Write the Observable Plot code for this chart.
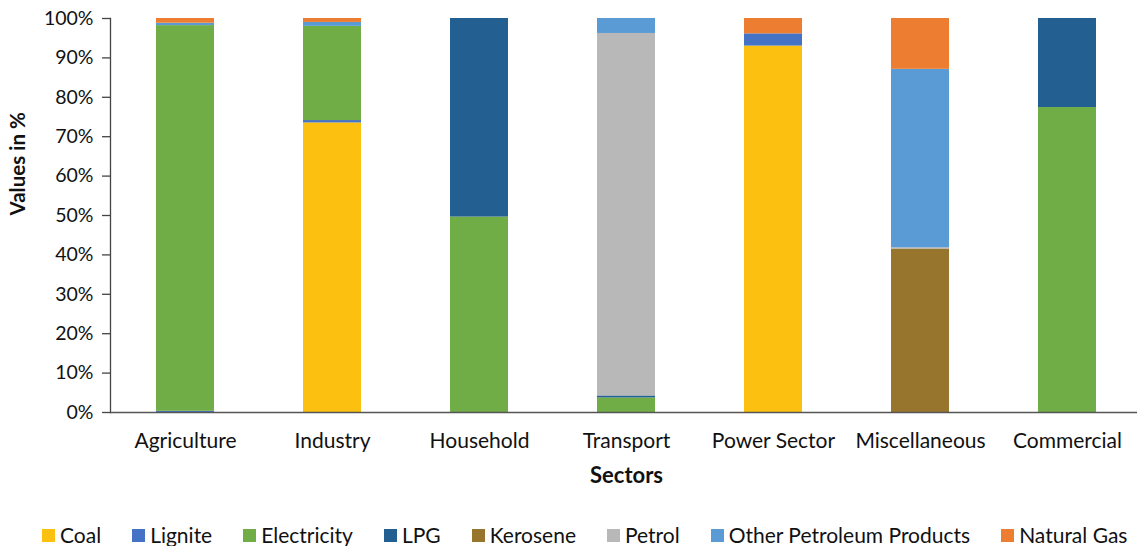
<!DOCTYPE html>
<html><head><meta charset="utf-8">
<script src="https://cdn.jsdelivr.net/npm/d3@7"></script>
<script src="https://cdn.jsdelivr.net/npm/@observablehq/plot@0.6"></script>
<style>
html,body{margin:0;background:#fff;font-family:Lato,"Open Sans",sans-serif;overflow:hidden}
#chart svg{display:block}
#legend{display:flex;justify-content:flex-start;padding-left:42px;margin-top:34px;font-size:21px;line-height:22px;color:#111;}
#legend .it{display:flex;align-items:center;margin-right:31px;white-space:nowrap}
#legend .sw{width:13px;height:13px;margin-right:5px}
</style></head><body>
<div id="chart"></div>
<div id="legend"></div>
<script>
const sectors = ["Agriculture","Industry","Household","Transport","Power Sector","Miscellaneous","Commercial"];
const series = ["Coal","Lignite","Electricity","LPG","Kerosene","Petrol","Other Petroleum Products","Natural Gas"];
const colors = ["#FCC010","#4472C4","#70AD47","#245F92","#98752D","#B8B8B8","#5B9BD5","#ED7D31"];
// values in % per sector (same order as sectors)
const coal        = [0,   73.5, 0,    0,    93.0, 0,    0];
const lignite     = [0.3, 0.6,  0,    0,    3.1,  0,    0];
const electricity = [97.9,23.9, 49.6, 3.7,  0,    0,    77.4];
const lpg         = [0,   0,    50.4, 0.5,  0,    0,    22.6];
const kerosene    = [0,   0,    0,    0,    0,    41.5, 0];
const petrol      = [0,   0,    0,    92.0, 0,    0.3,  0];
const otherPetro  = [0.6, 1.0,  0,    3.8,  0,    45.3, 0];
const naturalGas  = [1.2, 1.0,  0,    0,    3.9,  12.9, 0];
const yTicks = [0,10,20,30,40,50,60,70,80,90,100];

const seriesValues = [coal,lignite,electricity,lpg,kerosene,petrol,otherPetro,naturalGas];
const rows = [];
series.forEach((s,i)=>sectors.forEach((sec,j)=>rows.push({sector:sec,fuel:s,value:seriesValues[i][j]})));

const chart = Plot.plot({
  width:1137, height:490,
  marginLeft:110, marginRight:-5, marginTop:18, marginBottom:78,
  style:{fontFamily:"Lato, 'Open Sans', sans-serif", fontSize:"19.5px", color:"#111", background:"#fff"},
  x:{domain:sectors, paddingInner:0.605, paddingOuter:0.31, label:null},
  y:{domain:[0,100], label:null},
  color:{domain:series, range:colors},
  marks:[
    Plot.barY(rows,{x:"sector", y:"value", fill:"fuel", order:series}),
    Plot.axisX({tickSize:0, tickPadding:21, fontSize:21}),
    Plot.axisY({ticks:yTicks, tickFormat:d=>d+"%", tickSize:8, tickPadding:9, stroke:"#444", strokeWidth:1.3}),
    Plot.frame({anchor:"left", stroke:"#444", strokeWidth:1.3}),
    Plot.ruleY([0],{stroke:"#555", strokeWidth:1.5}),
    Plot.text(["Sectors"],{frameAnchor:"bottom", dy:70, fontWeight:"bold", fontSize:22, text:d=>d}),
    Plot.text(["Values in %"],{frameAnchor:"left", dx:-92, rotate:-90, fontWeight:"bold", fontSize:20.5, text:d=>d})
  ]
});
document.getElementById("chart").appendChild(chart);

const leg = document.getElementById("legend");
series.forEach((s,i)=>{
  const it=document.createElement("div");it.className="it";
  const sw=document.createElement("div");sw.className="sw";sw.style.background=colors[i];
  const t=document.createElement("span");t.textContent=s;
  it.appendChild(sw);it.appendChild(t);leg.appendChild(it);
});
</script>
</body></html>
